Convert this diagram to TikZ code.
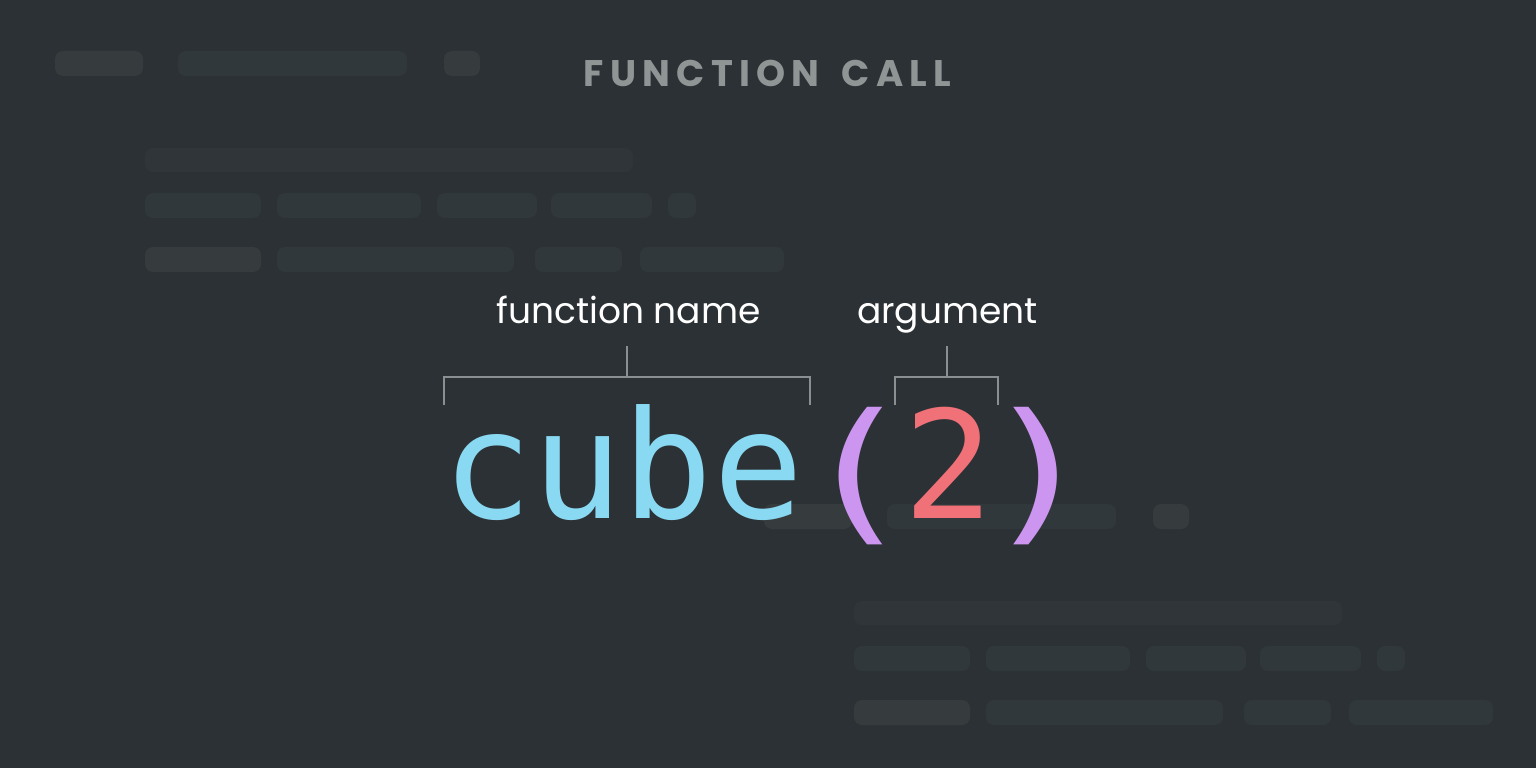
\documentclass[tikz,border=0pt]{standalone}
\usepackage{fontspec}
\usepackage{graphicx}
\setmainfont{Poppins}
\newfontfamily\codefont{DejaVu Sans Mono}
\newfontfamily\titlefont[LetterSpace=17]{Poppins}
\definecolor{bg}{HTML}{2B3134}
\definecolor{pillDark}{HTML}{31383B}
\definecolor{pillLight}{HTML}{363B3E}
\definecolor{pillFaint}{HTML}{2F3538}
\definecolor{titlegray}{HTML}{8F9494}
\definecolor{bracketgray}{HTML}{8A8F92}
\definecolor{cubeblue}{HTML}{89D9F3}
\definecolor{parenpurple}{HTML}{CC95F0}
\definecolor{argred}{HTML}{F07178}
\tikzset{
  pd/.style={fill=pillDark, rounded corners=8pt},
  pl/.style={fill=pillLight, rounded corners=8pt},
  pf/.style={fill=pillFaint, rounded corners=8pt},
  bracketline/.style={draw=bracketgray, line width=2pt},
  codetext/.style={inner sep=0pt, anchor=base, font=\codefont\fontsize{150}{150}\selectfont},
  labeltext/.style={inner sep=0pt, anchor=base, text=white, font=\fontsize{36}{36}\selectfont},
  titletext/.style={inner sep=0pt, anchor=base, text=titlegray, font=\titlefont\bfseries\fontsize{37}{37}\selectfont},
}
\newcommand{\pillset}{%
  \fill[pl] (55,51) rectangle (143,76);
  \fill[pd] (178,51) rectangle (407,76);
  \fill[pl] (444,51) rectangle (480,76);
  \fill[pf] (145,148) rectangle (633,172);
  \fill[pd] (145,193) rectangle (261,218);
  \fill[pd] (277,193) rectangle (421,218);
  \fill[pd] (437,193) rectangle (537,218);
  \fill[pd] (551,193) rectangle (652,218);
  \fill[pd] (668,193) rectangle (696,218);
  \fill[pl] (145,247) rectangle (261,272);
  \fill[pd] (277,247) rectangle (514,272);
  \fill[pd] (535,247) rectangle (622,272);
  \fill[pd] (640,247) rectangle (784,272);
}
\newcommand{\widebracket}[1]{\makebox[88pt]{\scalebox{1.3}[1.03]{#1}}}
\begin{document}
\begin{tikzpicture}[x=1pt,y=-1pt]
\useasboundingbox (0,0) rectangle (1536,768);
\fill[bg] (0,0) rectangle (1536,768);
\pillset
\begin{scope}[shift={(709,453)}]
\pillset
\end{scope}
\node[titletext] (title) at (767.5,86) {FUNCTION\hspace{22pt}CALL};
\node[labeltext] (fname) at (628.5,323) {function name};
\node[labeltext] (arg) at (947.5,323) {argument};
\coordinate (fnL) at (444,405);
\coordinate (fnR) at (810,405);
\coordinate (fnS) at (627,346);
\coordinate (arL) at (895,405);
\coordinate (arR) at (998,405);
\coordinate (arS) at (946.5,346);
\draw[bracketline] (fnL) -- (444,377) -- (810,377) -- (fnR);
\draw[bracketline] (fnS) -- (627,377);
\draw[bracketline] (arL) -- (895,377) -- (998,377) -- (arR);
\draw[bracketline] (arS) -- (946.5,377);
\node[codetext, text=cubeblue] (cube) at (623,518) {cube};
\node[codetext, text=parenpurple] (lp) at (857,524) {\widebracket{(}};
\node[codetext, text=argred] (two) at (949,518) {2};
\node[codetext, text=parenpurple] (rp) at (1039,524) {\widebracket{)}};
\end{tikzpicture}
\end{document}
